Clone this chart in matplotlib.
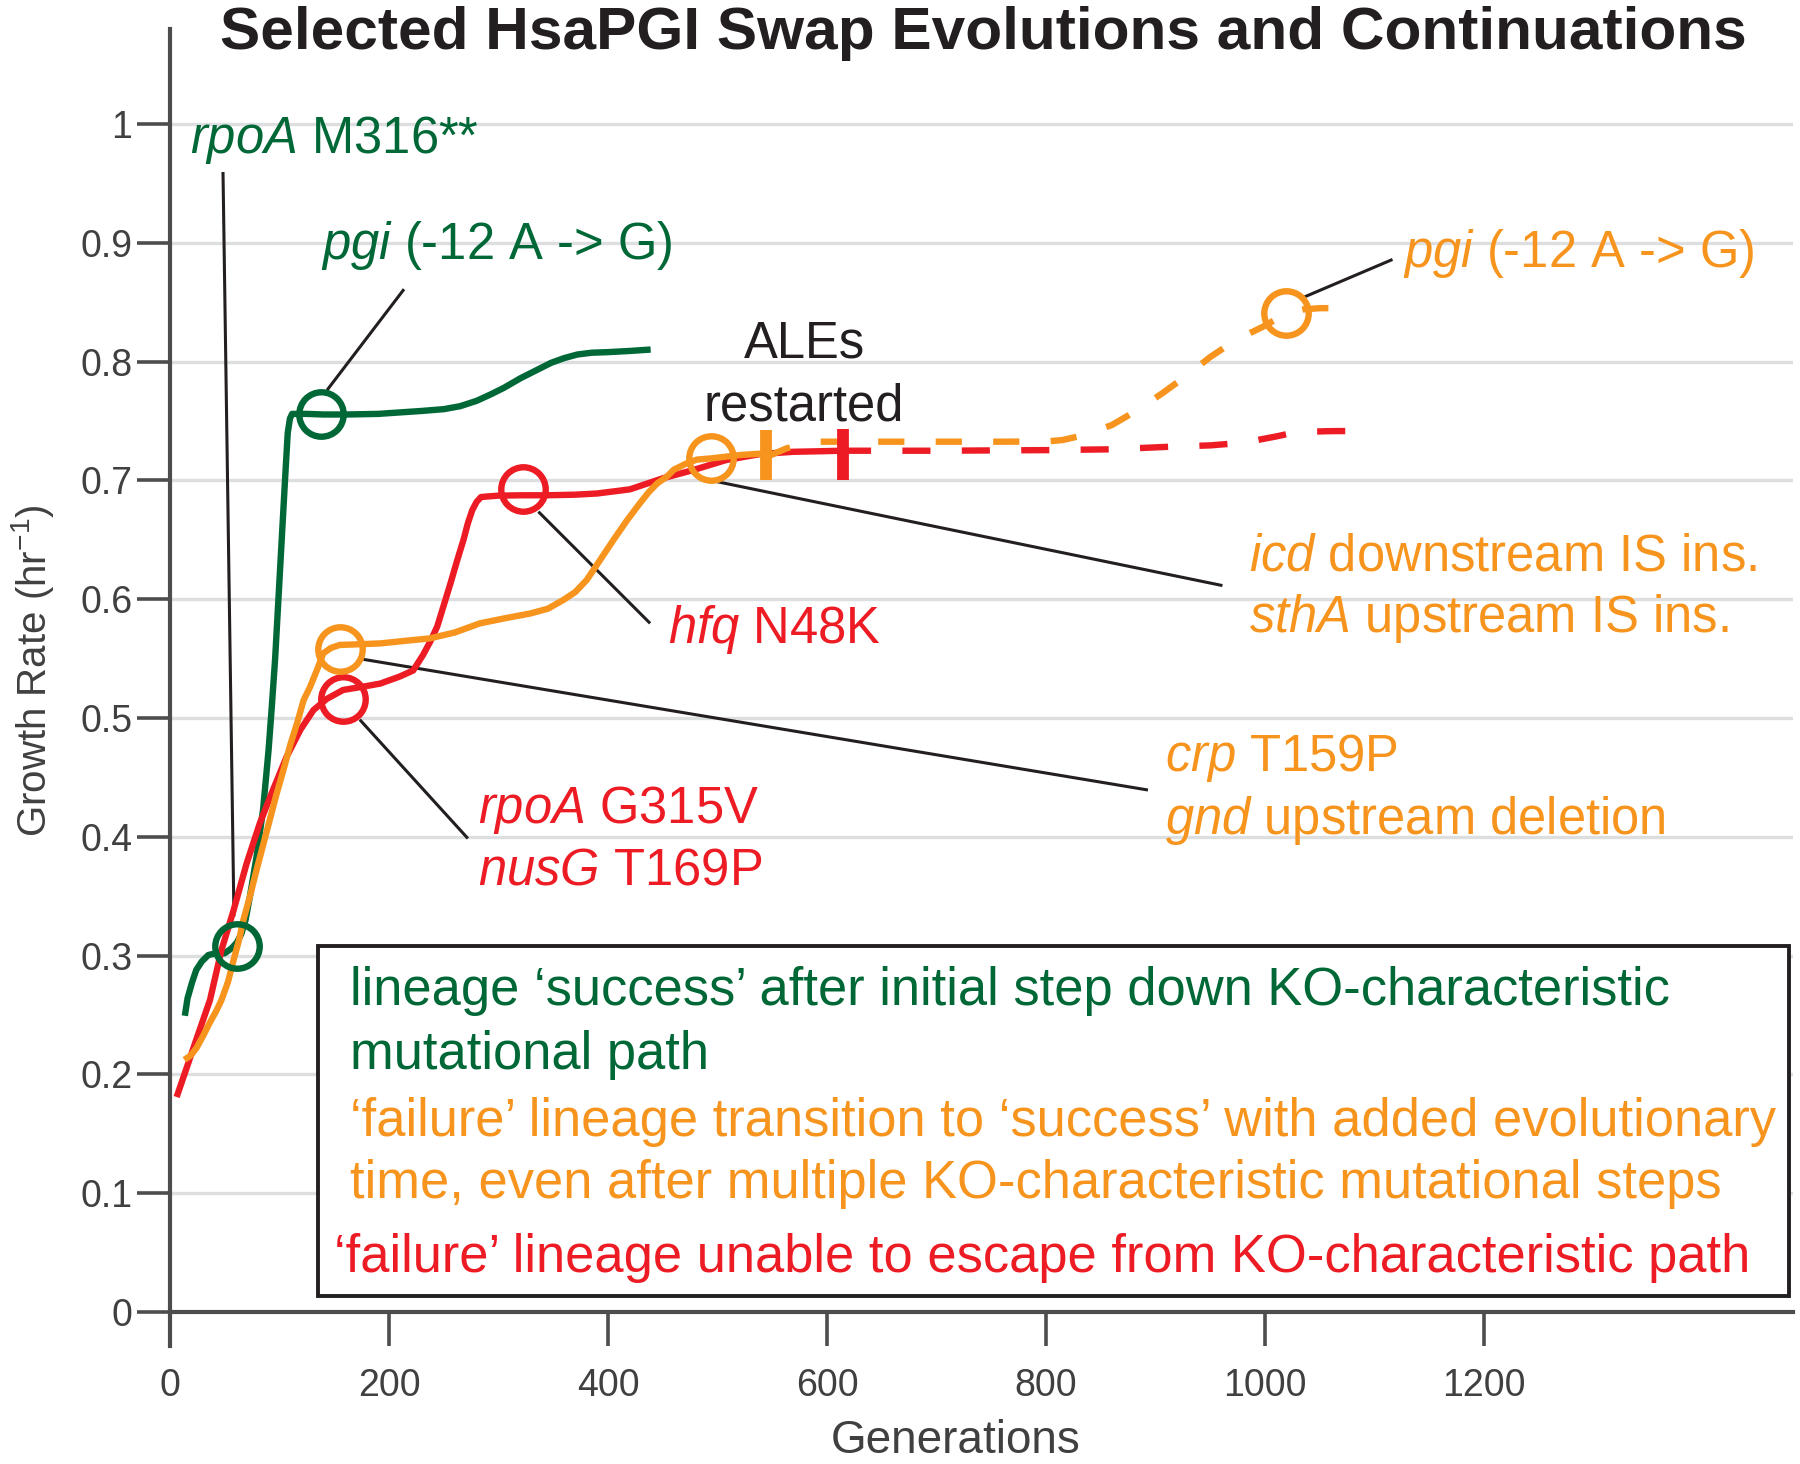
import matplotlib
matplotlib.use('Agg')
import matplotlib.pyplot as plt
from matplotlib.patches import Rectangle

plt.rcParams['font.family'] = ['Liberation Sans', 'DejaVu Sans']
plt.rcParams['mathtext.fontset'] = 'custom'
plt.rcParams['mathtext.rm'] = 'Liberation Sans'
plt.rcParams['mathtext.it'] = 'Liberation Sans:italic'
plt.rcParams['mathtext.bf'] = 'Liberation Sans:bold'

GREEN = '#006837'
ORANGE = '#F7941D'
RED = '#ED1C24'
DARK = '#231F20'
AXGRAY = '#4D4D4D'

# --- data ---
green_gen = [14, 16, 20, 24, 29, 35, 42, 50, 56, 61, 65, 69, 73, 79, 85, 90, 93, 96, 99, 102,
             105, 107.5, 109.5, 111.5, 125, 140, 161, 190, 230, 250, 265, 280, 293, 305, 320,
             334, 348, 360, 372, 385, 400, 420, 436]
green_rate = [0.252, 0.264, 0.277, 0.288, 0.295, 0.3005, 0.302, 0.302, 0.306, 0.311, 0.318,
              0.33, 0.35, 0.383, 0.423, 0.473, 0.51, 0.55, 0.60, 0.65, 0.70, 0.74, 0.752, 0.756,
              0.756, 0.7555, 0.7555, 0.756, 0.7585, 0.760, 0.7625, 0.767, 0.7725, 0.778, 0.786,
              0.7925, 0.799, 0.803, 0.806, 0.8075, 0.808, 0.809, 0.810]

red_gen = [7, 15, 25, 36.5, 47, 58, 70, 82, 94, 106.5, 119, 131, 143, 158, 180, 192, 210, 222,
           231, 238, 244, 250, 256, 262, 268, 272, 276, 280, 284, 290, 300, 322, 344, 370, 390,
           420, 450, 478, 508, 539, 569, 590, 614.5]
red_rate = [0.1835, 0.205, 0.232, 0.2626, 0.3047, 0.338, 0.3777, 0.4114, 0.4394, 0.4674, 0.49,
            0.5067, 0.516, 0.5236, 0.527, 0.529, 0.535, 0.54, 0.553, 0.565, 0.577, 0.595, 0.613,
            0.632, 0.65, 0.664, 0.675, 0.682, 0.686, 0.6865, 0.6872, 0.6875, 0.6875, 0.688,
            0.689, 0.6925, 0.7018, 0.7088, 0.7172, 0.7222, 0.7241, 0.7245, 0.725]
red_cont_gen = [614.5, 700, 800, 860, 914, 950, 970, 990, 1010, 1023, 1040, 1060, 1078]
red_cont_rate = [0.725, 0.725, 0.7255, 0.7262, 0.7284, 0.7295, 0.731, 0.7335, 0.737, 0.7396,
                 0.741, 0.7415, 0.7416]

orange_gen = [15.6, 19, 24, 30, 36, 42, 47, 53, 58, 63, 67, 73, 79, 85, 91, 97, 103.5, 110,
              116, 122, 128, 134, 140, 147, 155, 170, 192, 215, 237, 260, 283, 306, 329, 345,
              359, 370, 380.5, 392, 405, 417, 429, 437, 445, 453.6, 460, 471.8, 481, 494.7,
              520.5, 544]
orange_rate = [0.2138, 0.216, 0.222, 0.232, 0.243, 0.253, 0.2626, 0.278, 0.296, 0.313, 0.33,
               0.35, 0.372, 0.393, 0.414, 0.435, 0.456, 0.478, 0.4955, 0.515, 0.5264, 0.54,
               0.5545, 0.559, 0.5615, 0.562, 0.5628, 0.565, 0.567, 0.572, 0.5797, 0.584, 0.588,
               0.592, 0.5993, 0.606, 0.6162, 0.632, 0.65, 0.666, 0.6807, 0.69, 0.6976, 0.7031,
               0.709, 0.7144, 0.7175, 0.7186, 0.7214, 0.7228]
orange_cont_gen = [544, 563, 580, 591, 650, 700, 760, 800, 815, 834, 860, 883, 906, 929, 950,
                   973, 998, 1019.5, 1035, 1050, 1071]
orange_cont_rate = [0.7195, 0.727, 0.731, 0.7326, 0.7326, 0.7326, 0.7326, 0.7328, 0.734, 0.738,
                    0.7466, 0.759, 0.7733, 0.7887, 0.804, 0.818, 0.8294, 0.8406, 0.844, 0.845,
                    0.845]

green_mut_gen = [61, 137.5]
green_mut_rate = [0.3084, 0.756]
red_mut_gen = [157.7, 322]
red_mut_rate = [0.5157, 0.6925]
orange_mut_gen = [155.3, 494, 1019.5]
orange_mut_rate = [0.558, 0.7186, 0.8406]

restart_gen = [544.3, 614.3]
restart_lo = [0.7003, 0.7003]
restart_hi = [0.7424, 0.743]

# leader lines: (x0, y0, x1, y1)
leaders = [
    (48.4, 0.9596, 58.4, 0.333),
    (213.7, 0.861, 143.4, 0.776),
    (1116.3, 0.886, 1034.7, 0.854),
    (336.4, 0.6737, 438.4, 0.5797),
    (499.2, 0.699, 961, 0.6115),
    (176.5, 0.5494, 893, 0.4394),
    (173.3, 0.4986, 272, 0.3986),
]

# annotation texts: (x, baseline y, text, color, ha)
labels = [
    (18.3, 0.9756, r'$\mathit{rpoA}$ M316**', GREEN, 'left'),
    (138.3, 0.886, r'$\mathit{pgi}$ (-12 A -> G)', GREEN, 'left'),
    (579, 0.8035, 'ALEs', DARK, 'center'),
    (579, 0.7508, 'restarted', DARK, 'center'),
    (1126, 0.880, r'$\mathit{pgi}$ (-12 A -> G)', ORANGE, 'left'),
    (985.4, 0.624, r'$\mathit{icd}$ downstream IS ins.', ORANGE, 'left'),
    (985.4, 0.572, r'$\mathit{sthA}$ upstream IS ins.', ORANGE, 'left'),
    (455, 0.563, r'$\mathit{hfq}$ N48K', RED, 'left'),
    (908.8, 0.455, r'$\mathit{crp}$ T159P', ORANGE, 'left'),
    (908.8, 0.402, r'$\mathit{gnd}$ upstream deletion', ORANGE, 'left'),
    (281.5, 0.4116, r'$\mathit{rpoA}$ G315V', RED, 'left'),
    (281.5, 0.360, r'$\mathit{nusG}$ T169P', RED, 'left'),
]

box_lines = [
    (164.4, 0.2584, 'lineage \u2018success\u2019 after initial step down KO-characteristic', GREEN),
    (164.4, 0.2045, 'mutational path', GREEN),
    (164.4, 0.1485, '\u2018failure\u2019 lineage transition to \u2018success\u2019 with added evolutionary', ORANGE),
    (164.4, 0.0960, 'time, even after multiple KO-characteristic mutational steps', ORANGE),
    (150.0, 0.0337, '\u2018failure\u2019 lineage unable to escape from KO-characteristic path', RED),
]

fig = plt.figure(figsize=(18, 14.64), dpi=100)
ax = fig.add_axes([170 / 1800, (1464 - 1346) / 1464, 1623 / 1800, (1346 - 29) / 1464])
ax.set_xlim(0, 1482)
ax.set_ylim(-34 / 1188, 1.08)

for s in ['top', 'right']:
    ax.spines[s].set_visible(False)
ax.spines['bottom'].set_position(('data', 0))
for s in ['left', 'bottom']:
    ax.spines[s].set_color(AXGRAY)
    ax.spines[s].set_linewidth(3)

ax.set_yticks([i / 10 for i in range(11)])
ax.set_yticklabels(['0'] + ['0.%d' % i for i in range(1, 10)] + ['1'])
ax.set_xticks(range(0, 1201, 200))
ax.tick_params(axis='y', direction='out', length=24, width=2.6, color=AXGRAY,
               labelsize=27, labelcolor='#404040', pad=3)
ax.tick_params(axis='x', direction='out', length=24.5, width=2.6, color=AXGRAY,
               labelsize=27, labelcolor='#404040', pad=16)
ax.set_axisbelow(True)
ax.yaxis.grid(True, color='#DDDEE0', linewidth=2.4)
ax.xaxis.grid(False)
for gl in ax.get_ygridlines()[:1]:
    gl.set_visible(False)

for x0, y0, x1, y1 in leaders:
    ax.plot([x0, x1], [y0, y1], color=DARK, lw=2.2, zorder=2, solid_capstyle='butt')

lw = 4.6
ax.plot(green_gen, green_rate, color=GREEN, lw=lw, zorder=3, solid_joinstyle='round')
ax.plot(red_gen, red_rate, color=RED, lw=lw, zorder=3, solid_joinstyle='round')
ax.plot(orange_gen, orange_rate, color=ORANGE, lw=lw, zorder=3.1, solid_joinstyle='round')
ax.plot(red_cont_gen, red_cont_rate, color=RED, lw=lw, zorder=3, linestyle=(0, (4.4, 4.9)))
ax.plot(orange_cont_gen, orange_cont_rate, color=ORANGE, lw=lw, zorder=3,
        linestyle=(0, (4.1, 4.9)))

ax.vlines(restart_gen[0], restart_lo[0], restart_hi[0], color=ORANGE, lw=8.5, zorder=4)
ax.vlines(restart_gen[1], restart_lo[1], restart_hi[1], color=RED, lw=8.5, zorder=4)

for g, r, c in [(green_mut_gen, green_mut_rate, GREEN), (red_mut_gen, red_mut_rate, RED),
                (orange_mut_gen, orange_mut_rate, ORANGE)]:
    ax.plot(g, r, linestyle='none', marker='o', markersize=32, markerfacecolor='none',
            markeredgecolor=c, markeredgewidth=4.6, zorder=5)

for x, y, t, c, ha in labels:
    ax.text(x, y, t, color=c, fontsize=36.5, ha=ha, va='baseline', zorder=6)

ax.add_patch(Rectangle((135.2, 0.0137), 1478 - 135.2, 0.3083 - 0.0137, facecolor='white',
                       edgecolor=DARK, lw=2.8, zorder=2.5))
for x, y, t, c in box_lines:
    ax.text(x, y, t, color=c, fontsize=37.8, ha='left', va='baseline', zorder=6)

fig.text(983 / 1800, 1 - 49 / 1464, 'Selected HsaPGI Swap Evolutions and Continuations',
         fontsize=43.5, fontweight='bold', color=DARK, ha='center', va='baseline')
fig.text(33 / 1800, 1 - 671 / 1464, r'Growth Rate (hr$^{\mathrm{-1}}$)', rotation=90,
         fontsize=29, color='#404040', ha='center', va='center')
fig.text(956 / 1800, 11 / 1464, 'Generations', fontsize=33, color='#404040',
         ha='center', va='baseline')

fig.savefig('out.png', dpi=100)
